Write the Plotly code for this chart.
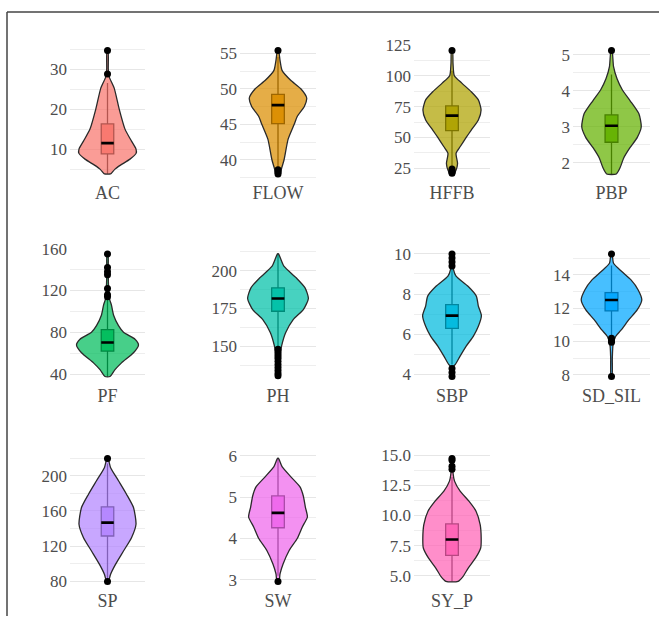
import plotly.graph_objects as go

W, H = 659, 619

names = ["AC", "FLOW", "HFFB", "PBP", "PF", "PH", "SBP", "SD_SIL", "SP", "SW", "SY_P"]
colors = ["#F8766D", "#DB8E00", "#AEA200", "#64B200", "#00BD5C", "#00C1A7",
          "#00BADE", "#00A6FF", "#B385FF", "#EF67EB", "#FF63B6"]

# violin density profiles (value, relative half-width)
dens_y = {
    "AC": [3.8, 4.0, 5.0, 6.0, 7.5, 9.0, 10.0, 12.0, 15.0, 20.0, 25.25, 28.2, 30.0, 34.6],
    "FLOW": [38.0, 38.5, 40, 42.9, 45, 46.1, 47.5, 48.7, 50, 51.2, 52.6, 54, 55.4],
    "HFFB": [20.5, 23.6, 29, 37.2, 42.5, 50, 56, 64.2, 72.3, 80.4, 87, 94, 100, 110, 120.4],
    "PBP": [1.69, 1.86, 2.14, 2.42, 2.7, 3.0, 3.36, 3.73, 4.03, 4.34, 4.67, 5.12],
    "PF": [37.7, 44.2, 50.7, 60.4, 67.9, 73.4, 80, 86.3, 96, 105.8, 112, 125, 140, 155],
    "PH": [130, 140, 150, 158.9, 167.6, 174.2, 181.5, 188.6, 195.2, 202.9, 211],
    "SBP": [3.9, 4.4, 4.5, 4.91, 5.41, 5.9, 6.4, 6.93, 7.4, 7.9, 8.39, 8.89, 9.22, 10.0],
    "SD_SIL": [7.9, 9.0, 9.8, 10.3, 10.69, 11.29, 11.89, 12.49, 13.09, 13.69, 14.19, 14.69, 15.25],
    "SP": [79.7, 87.6, 99.1, 114.3, 129.5, 144.8, 163.8, 179, 194.3, 209.5, 219.8],
    "SW": [2.96, 3.14, 3.38, 3.71, 4.0, 4.28, 4.52, 4.76, 5.03, 5.25, 5.5, 5.74, 5.94],
    "SY_P": [4.52, 4.94, 5.63, 6.47, 7.3, 8.13, 9.25, 10.36, 11.19, 12.03, 12.86, 13.55, 14.75],
}
dens_w = {
    "AC": [3, 4, 7.5, 13, 22.5, 28.7, 28.5, 24, 17.5, 11.7, 6.7, 1.5, 0.8, 0.5],
    "FLOW": [2.5, 3, 6, 10, 16, 19, 26, 28.3, 22.5, 12.5, 4, 2, 0.5],
    "HFFB": [2, 4, 5.5, 4, 8, 14, 19, 26, 28.7, 26, 19, 9.7, 2.3, 1, 0.5],
    "PBP": [4.7, 8.3, 12, 18, 25, 29, 26.7, 18, 10.5, 5.3, 2, 0.5],
    "PF": [2.5, 7.5, 14, 26, 31, 27.5, 16, 11, 6.2, 4, 2, 1, 0.7, 0.5],
    "PH": [0.5, 1, 3.5, 7.5, 15, 25, 30, 26.7, 18, 5.8, 0.5],
    "SBP": [0.5, 1.5, 3.3, 8, 14, 21, 26, 29, 26, 24, 15.8, 4, 1.5, 0.5],
    "SD_SIL": [0.5, 0.8, 1.5, 4, 9.5, 16.7, 25, 29.5, 26, 19, 10, 2, 0.5],
    "SP": [1, 3, 8, 16, 24, 28.5, 26, 19, 11, 3, 0.5],
    "SW": [1, 2, 5, 11, 19, 24, 29, 27, 25, 21.7, 12.5, 4, 0.5],
    "SY_P": [6, 11, 16, 23.3, 28.3, 28.8, 27.8, 23.7, 16.7, 8, 2.5, 1, 0.5],
}

q1 = [8.8, 45.1, 55.5, 2.57, 62, 173.1, 6.29, 11.83, 131.4, 4.26, 6.69]
median = [11.5, 47.7, 67.7, 3.03, 70.2, 181.5, 6.93, 12.49, 146.7, 4.62, 8.0]
q3 = [16.3, 49.2, 75.5, 3.33, 82.5, 188.6, 7.48, 12.93, 164.6, 5.03, 9.3]
lower_whisker = [3.8, 38.9, 26.0, 1.69, 37.7, 150.0, 4.5, 10.3, 82.0, 3.1, 4.52]
upper_whisker = [26.5, 54.5, 104.0, 4.45, 112.0, 211.0, 9.25, 14.55, 214.0, 5.94, 13.2]

outliers = {
    "AC": [28.75, 34.65],
    "FLOW": [38.0, 38.3, 38.6, 55.4],
    "HFFB": [21.0, 22.0, 23.0, 24.5, 120.4],
    "PBP": [5.12],
    "PF": [114, 116, 122, 135, 138, 142, 155],
    "PH": [130.5, 132, 134, 136, 138, 140, 142, 143.5, 145, 146.5, 148],
    "SBP": [3.9, 4.1, 4.3, 9.4, 9.6, 9.8, 10.0],
    "SD_SIL": [7.9, 9.95, 10.05, 10.2, 15.25],
    "SP": [79.7, 219.8],
    "SW": [2.96],
    "SY_P": [13.85, 14.1, 14.6, 14.75],
}

major_dtick = [10, 5, 25, 1, 40, 25, 2, 2, 40, 1, 2.5]

# ---- layout geometry (pixels) ----
col_px = [(70, 145), (240, 316), (414, 490), (573, 650)]
row_px = [(36, 174.5), (243.5, 381), (452, 590)]
FRAME_Y = 3
PX2UNIT = 1.2 / 75.0
BOX_W = 0.2


def rgba(hexc, a):
    h = hexc.lstrip("#")
    r, g, b = int(h[0:2], 16), int(h[2:4], 16), int(h[4:6], 16)
    return f"rgba({r},{g},{b},{a})"


fig = go.Figure()
layout = {}
for i, name in enumerate(names):
    r, c = divmod(i, 4)
    sfx = "" if i == 0 else str(i + 1)
    xa, ya = "x" + sfx, "y" + sfx
    col = colors[i]

    ys = dens_y[name]
    ws = [w * PX2UNIT for w in dens_w[name]]
    px = [1 + w for w in ws] + [1 - w for w in ws[::-1]]
    py = ys + ys[::-1]
    px.append(px[0])
    py.append(py[0])
    fig.add_trace(go.Scatter(x=px, y=py, mode="lines", fill="toself",
                             fillcolor=rgba(col, 0.72),
                             line=dict(color="#2a2a2a", width=1.3, shape="spline", smoothing=0.6),
                             xaxis=xa, yaxis=ya, hoverinfo="skip", showlegend=False))
    fig.add_trace(go.Box(x=[1], q1=[q1[i]], median=[median[i]], q3=[q3[i]],
                         lowerfence=[lower_whisker[i]], upperfence=[upper_whisker[i]],
                         width=BOX_W, whiskerwidth=0, fillcolor=rgba(col, 0.92),
                         line=dict(color="black", width=1.3), boxpoints=False,
                         xaxis=xa, yaxis=ya, showlegend=False, hoverinfo="skip"))
    fig.add_trace(go.Scatter(x=[1 - BOX_W / 2, 1 + BOX_W / 2], y=[median[i], median[i]],
                             mode="lines", line=dict(color="black", width=2.6),
                             xaxis=xa, yaxis=ya, showlegend=False, hoverinfo="skip"))
    outs = outliers[name]
    fig.add_trace(go.Scatter(x=[1] * len(outs), y=outs, mode="markers",
                             marker=dict(color="black", size=7),
                             xaxis=xa, yaxis=ya, showlegend=False, hoverinfo="skip"))

    allv = ys + outs
    lo, hi = min(allv), max(allv)
    pad = (hi - lo) * 0.05
    x0, x1 = col_px[c]
    y0, y1 = row_px[r]
    d = major_dtick[i]
    layout["xaxis" + sfx] = dict(
        domain=[x0 / W, x1 / W], anchor=ya, range=[0.4, 1.6],
        tickvals=[1], ticktext=[name], showgrid=False, zeroline=False,
        showline=False, ticks="", fixedrange=True, ticklabelstandoff=0,
        tickfont=dict(family="Liberation Serif", size=18, color="#4d4d4d"))
    layout["yaxis" + sfx] = dict(
        domain=[1 - y1 / H, 1 - y0 / H], anchor=xa, range=[lo - pad, hi + pad],
        tick0=0, dtick=d, showgrid=True, gridcolor="#e6e6e6", gridwidth=1,
        minor=dict(tick0=0, dtick=d / 2, showgrid=True, gridcolor="#eeeeee", gridwidth=0.8),
        zeroline=False, showline=False, ticks="", ticklabelstandoff=2,
        tickformat=".1f" if name == "SY_P" else None,
        tickfont=dict(family="Liberation Serif", size=17, color="#4d4d4d"))

fig.update_layout(**layout)
fig.update_layout(
    width=W, height=H, margin=dict(l=0, r=0, t=0, b=0),
    paper_bgcolor="white", plot_bgcolor="white", showlegend=False,
    shapes=[
        dict(type="line", xref="paper", yref="paper", x0=7 / W, x1=1,
             y0=1 - FRAME_Y / H, y1=1 - FRAME_Y / H,
             line=dict(color="#444444", width=1.5)),
        dict(type="line", xref="paper", yref="paper", x0=7 / W, x1=7 / W, y0=0,
             y1=1 - FRAME_Y / H, line=dict(color="#444444", width=1.5)),
    ],
)

pin_js = (
    "document.documentElement.style.margin='0';"
    "document.body.style.margin='0';document.body.style.padding='0';"
    "document.body.style.overflow='hidden';"
    "var gd=document.getElementById('{plot_id}');"
    "gd.style.position='fixed';gd.style.top='0px';gd.style.left='0px';"
)
fig.write_html("out.html", config={"displayModeBar": False, "responsive": False},
               post_script=pin_js)
